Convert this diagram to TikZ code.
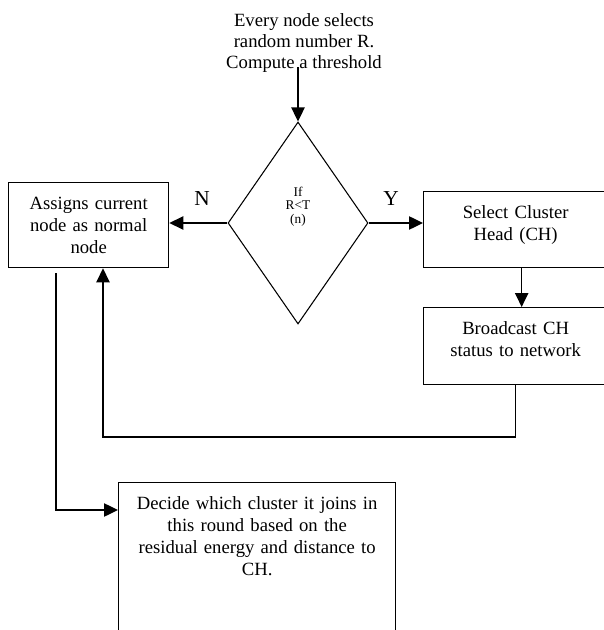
\documentclass[tikz,border=0pt]{standalone}
\usepackage{fontspec}
\setmainfont{Liberation Serif}
\usetikzlibrary{shapes,arrows.meta}

\begin{document}
\begin{tikzpicture}[x=0.75pt, y=-0.75pt]
	\tikzstyle{box}=[draw, line width=1pt, anchor=north west, align=center, inner xsep=4pt, inner ysep=10.25pt, text height=10pt, font=\fontsize{14}{16.5}\selectfont];
	\tikzstyle{decision}=[draw, diamond, line width=0.8pt, inner sep=0pt, minimum width=105pt, minimum height=151.5pt, text width=30pt, align=center, text height=8pt, text depth=47.8pt, font=\fontsize{10}{10}\selectfont];
	\tikzstyle{txt}=[inner sep=0pt, align=center, font=\fontsize{14}{16.1}\selectfont];
	\tikzstyle{yn}=[inner sep=0pt, font=\fontsize{16}{16}\selectfont];
	\tikzstyle{arr}=[line width=1pt, -{Triangle[length=10.5pt, width=10pt]}];
	\useasboundingbox (0,0) rectangle (603,630);
	\node [txt] (start) at (304,43) {Every node selects\\random number R.\\Compute a threshold};
	\node [decision] (dec) at (298,223) {If\\R<T\\(n)};
	\node [box, text width=112pt, text depth=33.25pt] (norm) at (8,182) {Assigns current\\node as normal\\node};
	\node [box, text width=130pt, text depth=26.5pt] (sel) at (423,191) {Select Cluster\\Head (CH)};
	\node [box, text width=130pt, text depth=27.25pt] (bcast) at (423,307) {Broadcast CH\\status to network};
	\node [box, text width=199.75pt, text depth=129.5pt] (join) at (118,482) {Decide which cluster it joins in\\this round based on the\\residual energy and distance to\\CH.};
	\node [yn] (no) at (202,199) {N};
	\node [yn] (yes) at (391,199) {Y};
	\draw [arr] ([yshift=4.5pt]start.south -| dec.north) -- (dec.north);
	\draw [arr] (dec.west) -- (dec.west -| norm.east);
	\draw [arr] (dec.east) -- (dec.east -| sel.west);
	\draw [arr] ([xshift=4.5pt]sel.south) -- ([xshift=4.5pt]bcast.north);
	\coordinate (back) at (103,437);
	\draw [arr] (bcast.south) -- (bcast.south |- back) -- (back) -- (back |- norm.south);
	\coordinate (down) at (56,510);
	\draw [arr] ([yshift=-3.75pt]norm.south -| down) -- (down) -- (down -| join.west);
\end{tikzpicture}
\end{document}
